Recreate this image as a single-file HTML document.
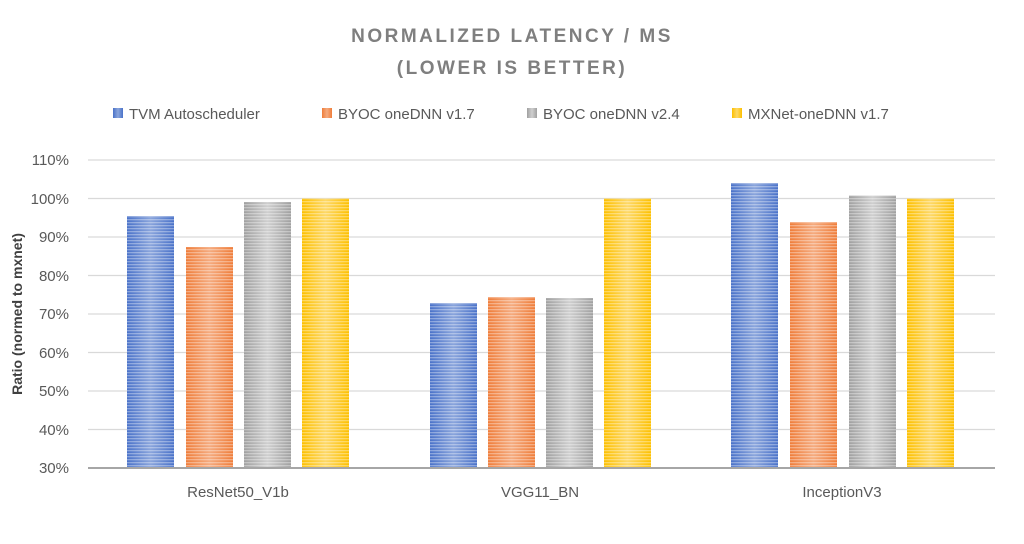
<!DOCTYPE html>
<html><head><style>
body{margin:0;background:#fff;}
svg text{font-family:"Liberation Sans",sans-serif;}
</style></head><body>
<svg width="1024" height="539" xmlns="http://www.w3.org/2000/svg">
<defs>
<pattern id="st" width="4" height="3" patternUnits="userSpaceOnUse"><rect width="4" height="1.3" fill="#fff" opacity="0.35"/></pattern>
<linearGradient id="gb" x1="0" x2="1"><stop offset="0" stop-color="#4a72c9"/><stop offset=".5" stop-color="#8aa5dc"/><stop offset="1" stop-color="#4a72c9"/></linearGradient>
<linearGradient id="go" x1="0" x2="1"><stop offset="0" stop-color="#ef7d3a"/><stop offset=".5" stop-color="#f5ab7f"/><stop offset="1" stop-color="#ef7d3a"/></linearGradient>
<linearGradient id="gg" x1="0" x2="1"><stop offset="0" stop-color="#a0a0a0"/><stop offset=".5" stop-color="#cfcfcf"/><stop offset="1" stop-color="#a0a0a0"/></linearGradient>
<linearGradient id="gy" x1="0" x2="1"><stop offset="0" stop-color="#fdc000"/><stop offset=".5" stop-color="#fdd867"/><stop offset="1" stop-color="#fdc000"/></linearGradient>
</defs>
<text x="512" y="42" text-anchor="middle" font-size="19" font-weight="bold" fill="#7f7f7f" letter-spacing="2.5">NORMALIZED LATENCY / MS</text>
<text x="512" y="74" text-anchor="middle" font-size="19" font-weight="bold" fill="#7f7f7f" letter-spacing="2.5">(LOWER IS BETTER)</text>
<g font-size="15" fill="#595959">
<rect x="113" y="108" width="10" height="10" fill="url(#gb)"/><text x="129" y="119">TVM Autoscheduler</text>
<rect x="322" y="108" width="10" height="10" fill="url(#go)"/><text x="338" y="119">BYOC oneDNN v1.7</text>
<rect x="527" y="108" width="10" height="10" fill="url(#gg)"/><text x="543" y="119">BYOC oneDNN v2.4</text>
<rect x="732" y="108" width="10" height="10" fill="url(#gy)"/><text x="748" y="119">MXNet-oneDNN v1.7</text>
</g>
<g stroke="#d9d9d9" stroke-width="1.2">
<line x1="88" x2="995" y1="160" y2="160"/><line x1="88" x2="995" y1="198.5" y2="198.5"/>
<line x1="88" x2="995" y1="237" y2="237"/><line x1="88" x2="995" y1="275.5" y2="275.5"/>
<line x1="88" x2="995" y1="314" y2="314"/><line x1="88" x2="995" y1="352.5" y2="352.5"/>
<line x1="88" x2="995" y1="391" y2="391"/><line x1="88" x2="995" y1="429.5" y2="429.5"/>
</g>
<g font-size="15" fill="#595959" text-anchor="end">
<text x="69" y="165">110%</text><text x="69" y="204">100%</text><text x="69" y="242">90%</text>
<text x="69" y="281">80%</text><text x="69" y="319">70%</text><text x="69" y="358">60%</text>
<text x="69" y="396">50%</text><text x="69" y="435">40%</text><text x="69" y="473">30%</text>
</g>
<text transform="translate(22,314) rotate(-90)" text-anchor="middle" font-size="14" font-weight="bold" fill="#404040">Ratio (normed to mxnet)</text>
<g>
<rect x="127" y="216" width="47" height="252" fill="url(#gb)"/><rect x="186" y="247" width="47" height="221" fill="url(#go)"/>
<rect x="244" y="202" width="47" height="266" fill="url(#gg)"/><rect x="302" y="198.5" width="47" height="269.5" fill="url(#gy)"/>
<rect x="430" y="303" width="47" height="165" fill="url(#gb)"/><rect x="488" y="297" width="47" height="171" fill="url(#go)"/>
<rect x="546" y="298" width="47" height="170" fill="url(#gg)"/><rect x="604" y="198.5" width="47" height="269.5" fill="url(#gy)"/>
<rect x="731" y="183" width="47" height="285" fill="url(#gb)"/><rect x="790" y="222" width="47" height="246" fill="url(#go)"/>
<rect x="849" y="195.5" width="47" height="272.5" fill="url(#gg)"/><rect x="907" y="198.5" width="47" height="269.5" fill="url(#gy)"/>
</g>
<g fill="url(#st)">
<rect x="127" y="216" width="47" height="252"/><rect x="186" y="247" width="47" height="221"/>
<rect x="244" y="202" width="47" height="266"/><rect x="302" y="198.5" width="47" height="269.5"/>
<rect x="430" y="303" width="47" height="165"/><rect x="488" y="297" width="47" height="171"/>
<rect x="546" y="298" width="47" height="170"/><rect x="604" y="198.5" width="47" height="269.5"/>
<rect x="731" y="183" width="47" height="285"/><rect x="790" y="222" width="47" height="246"/>
<rect x="849" y="195.5" width="47" height="272.5"/><rect x="907" y="198.5" width="47" height="269.5"/>
</g>
<line x1="88" x2="995" y1="468" y2="468" stroke="#a6a6a6" stroke-width="2"/>
<g font-size="15" fill="#595959" text-anchor="middle">
<text x="238" y="497">ResNet50_V1b</text><text x="540" y="497">VGG11_BN</text><text x="842" y="497">InceptionV3</text>
</g>
</svg>
</body></html>
